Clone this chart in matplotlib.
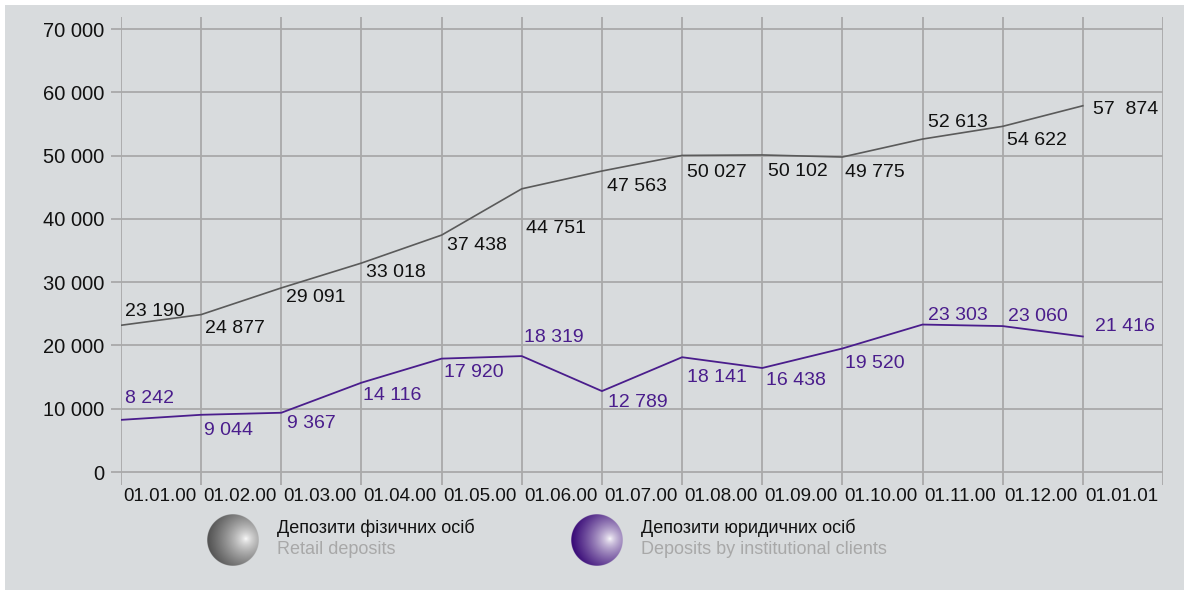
import numpy as np
import matplotlib.pyplot as plt
from matplotlib.patches import Rectangle

dates = ['01.01.00', '01.02.00', '01.03.00', '01.04.00', '01.05.00', '01.06.00', '01.07.00',
         '01.08.00', '01.09.00', '01.10.00', '01.11.00', '01.12.00', '01.01.01']
retail = [23190, 24877, 29091, 33018, 37438, 44751, 47563, 50027, 50102, 49775, 52613, 54622, 57874]
institutional = [8242, 9044, 9367, 14116, 17920, 18319, 12789, 18141, 16438, 19520, 23303, 23060, 21416]
retail_labels = ['23 190', '24 877', '29 091', '33 018', '37 438', '44 751', '47 563',
                 '50 027', '50 102', '49 775', '52 613', '54 622', '57  874']
inst_labels = ['8 242', '9 044', '9 367', '14 116', '17 920', '18 319', '12 789',
               '18 141', '16 438', '19 520', '23 303', '23 060', '21 416']
yticks = [0, 10000, 20000, 30000, 40000, 50000, 60000, 70000]

# label offsets in pixels (dx, dy) relative to the point
retail_dx = [4, 4, 5, 5, 5, 4, 5, 5, 6, 3, 5, 4, 10]
retail_dy = [14, -14, -10, -9, -10, -40, -15, -17, -17, -15, 17, -14, -4]
inst_dx = [4, 3, 6, 2, 2, 2, 6, 5, 4, 3, 5, 5, 12]
inst_dy = [21, -16, -11, -13, -14, 19, -11, -20, -13, -15, 9, 10, 10]

BG = '#d8dbdd'
GRID = '#a9a9a9'
PURPLE = '#4a1d8c'
GRAY_LINE = '#5a5a5a'
FONT = ['Liberation Sans', 'DejaVu Sans']

W, H = 1189, 595
fig = plt.figure(figsize=(W / 100, H / 100), dpi=100)
fig.patch.set_facecolor('white')
fig.patches.append(Rectangle((5 / W, 5 / H), 1179 / W, 585 / H, transform=fig.transFigure,
                             facecolor=BG, edgecolor='none', zorder=-10))

ax = fig.add_axes([121 / W, 1 - 485 / H, (1163 - 121) / W, (485 - 17) / H])
ax.set_facecolor('none')
x = np.arange(len(dates))
ax.set_xlim(0, 13)
ax.set_ylim(-2050, 71900)
for s in ax.spines.values():
    s.set_visible(False)

for v in yticks:
    ax.axhline(v, color=GRID, lw=1.3, zorder=1)
for i in range(14):
    ax.axvline(i, color=GRID, lw=1.3, zorder=1)

ax.set_yticks(yticks)
ax.set_yticklabels([f'{v:,}'.replace(',', ' ') for v in yticks])
ax.tick_params(axis='y', length=7, color=GRID, width=1.3, pad=5, labelsize=14.5, labelcolor='#111111')
ax.set_xticks(x)
ax.set_xticklabels(dates, ha='left')
ax.tick_params(axis='x', length=0, pad=2, labelsize=13.5, labelcolor='#111111')
for lab in ax.get_xticklabels() + ax.get_yticklabels():
    lab.set_family(FONT)
for t in ax.get_xticklabels():
    t.set_transform(t.get_transform() + plt.matplotlib.transforms.ScaledTranslation(2 / 100, 0, fig.dpi_scale_trans))

ax.plot(x, retail, color=GRAY_LINE, lw=1.2, zorder=3)
ax.plot(x, institutional, color=PURPLE, lw=1.3, zorder=3)

for i in range(len(x)):
    ax.annotate(retail_labels[i], (x[i], retail[i]), xytext=(retail_dx[i], retail_dy[i]),
                textcoords='offset pixels', ha='left', va='center', fontsize=14,
                family=FONT, color='#111111', zorder=4)
    ax.annotate(inst_labels[i], (x[i], institutional[i]), xytext=(inst_dx[i], inst_dy[i]),
                textcoords='offset pixels', ha='left', va='center', fontsize=14,
                family=FONT, color=PURPLE, zorder=4)


def sphere(cx, cy, base):
    sax = fig.add_axes([(cx - 26) / W, 1 - (cy + 26) / H, 52 / W, 52 / H])
    sax.axis('off')
    n = 200
    yy, xx = np.mgrid[-1:1:n * 1j, -1:1:n * 1j]
    r = np.sqrt(xx ** 2 + yy ** 2)
    d = np.sqrt((xx - 0.5) ** 2 + (yy + 0.05) ** 2)
    t = np.clip(d / 1.45, 0, 1) ** 0.7
    base = np.array(plt.matplotlib.colors.to_rgb(base))
    img = np.zeros((n, n, 4))
    img[..., :3] = (1 - t[..., None]) * 1.0 + t[..., None] * base
    img[..., 3] = np.clip((1 - r) * n / 2, 0, 1)
    sax.imshow(img, extent=(-1, 1, -1, 1), origin='upper')
    sax.set_xlim(-1, 1)
    sax.set_ylim(-1, 1)


sphere(233, 540, '#555555')
sphere(597, 540, '#3a0c78')

fig.text(277 / W, 1 - 528 / H, 'Депозити фізичних осіб', fontsize=13, family=FONT,
         color='#111111', va='center')
fig.text(277 / W, 1 - 550 / H, 'Retail deposits', fontsize=13, family=FONT,
         color='#a8a8a8', va='center')
fig.text(641 / W, 1 - 528 / H, 'Депозити юридичних осіб', fontsize=13, family=FONT,
         color='#111111', va='center')
fig.text(641 / W, 1 - 550 / H, 'Deposits by institutional clients', fontsize=13, family=FONT,
         color='#a8a8a8', va='center')

fig.savefig('out.png', dpi=100)
